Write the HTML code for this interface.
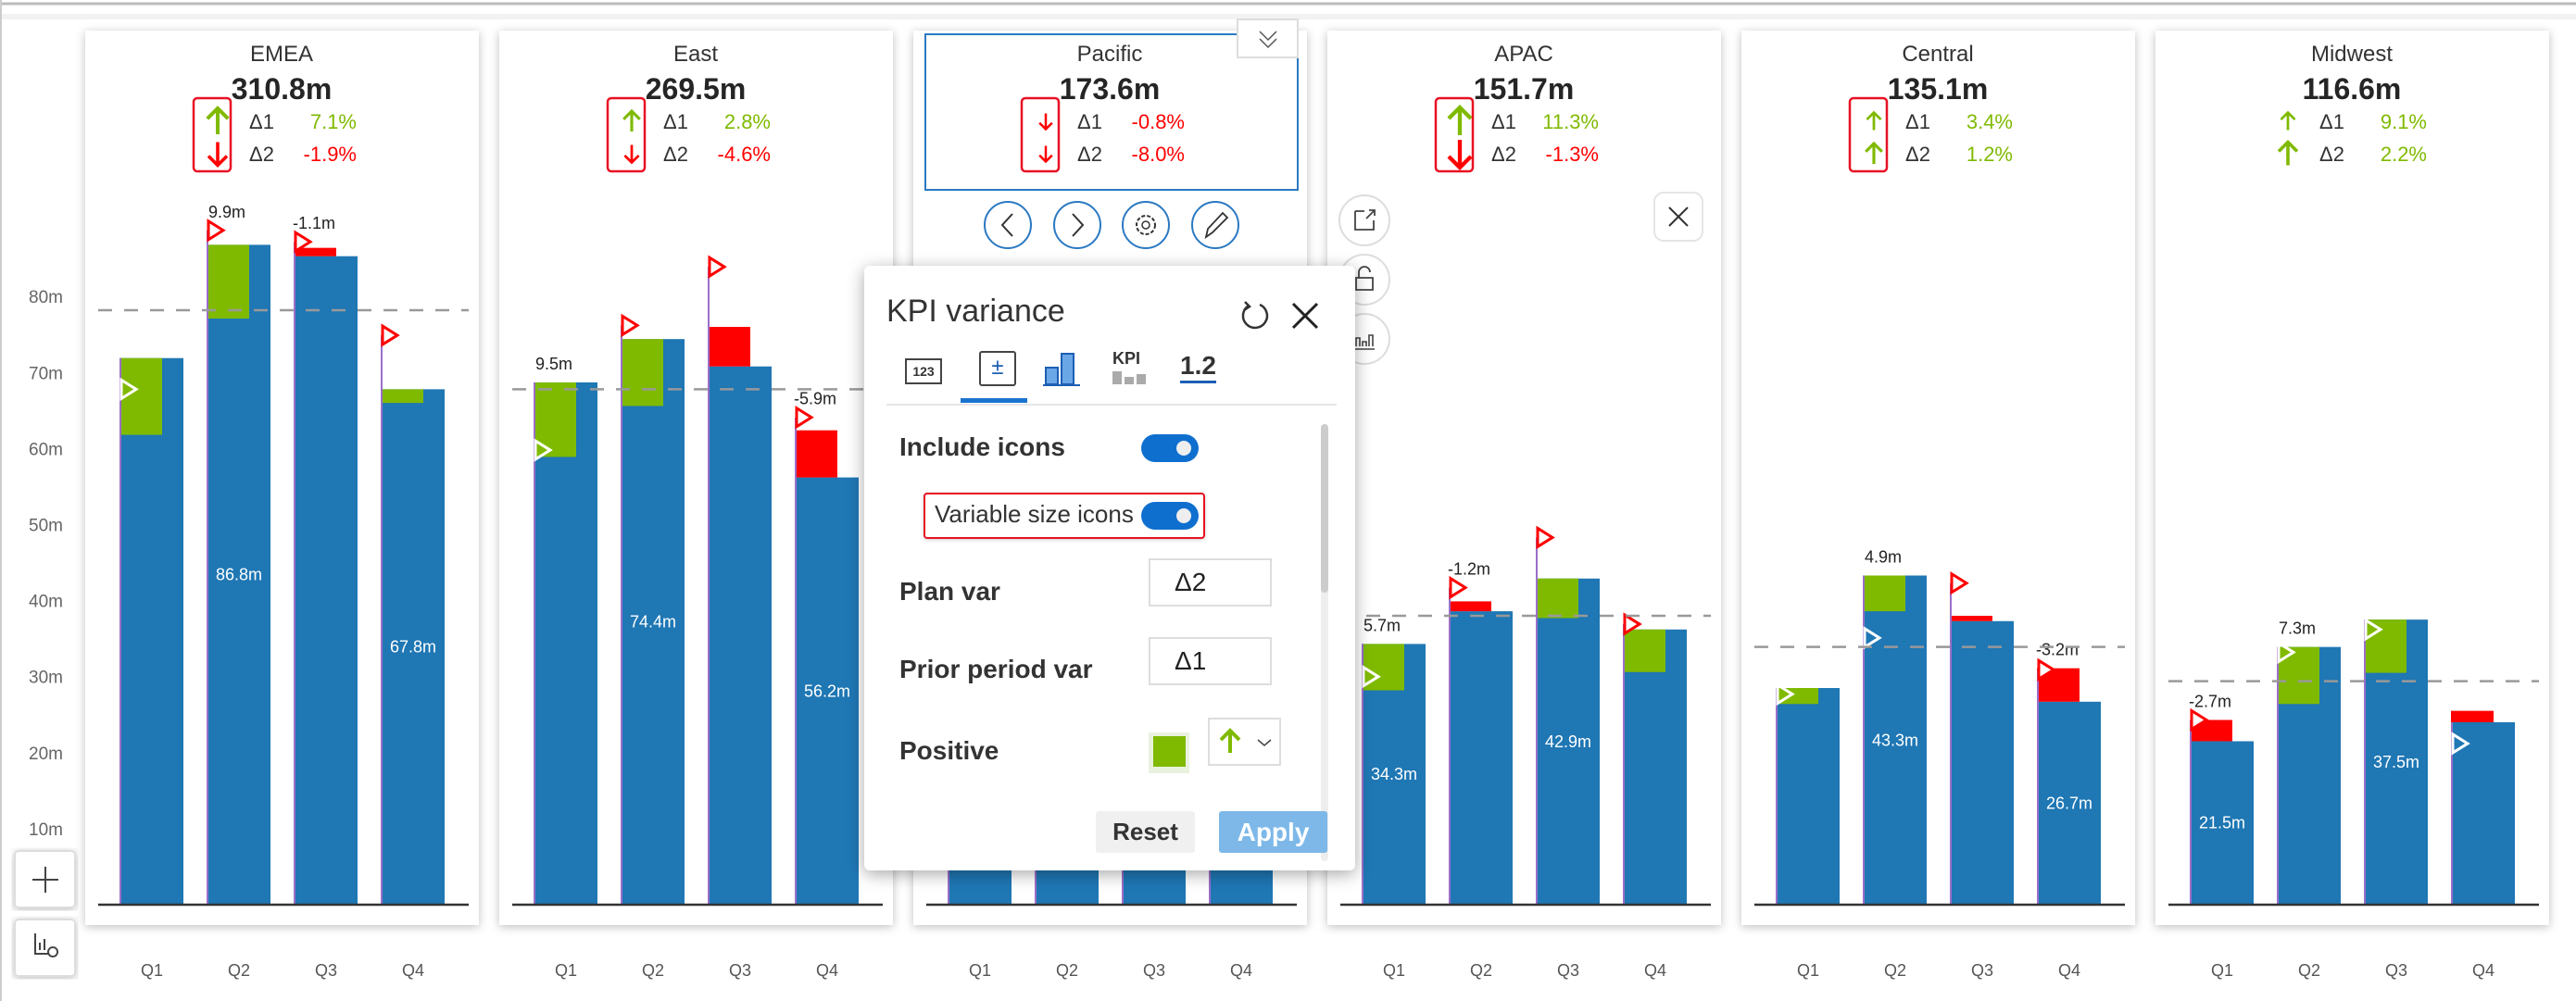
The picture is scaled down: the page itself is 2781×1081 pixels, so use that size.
<!DOCTYPE html>
<html><head><meta charset="utf-8"><style>
html,body{margin:0;padding:0;background:#fff;width:2781px;height:1081px;overflow:hidden;font-family:"Liberation Sans",sans-serif}
#chart{position:absolute;left:0;top:0}
#popup{position:absolute;left:933px;top:287px;width:530px;height:653px;background:#fff;border-radius:6px;box-shadow:0 4px 18px rgba(0,0,0,.35);color:#333}
#popup .lbl{position:absolute;left:38px;font-size:28px;font-weight:bold;color:#333}
.tog{position:absolute;width:62px;height:30px;border-radius:15px;background:#0f6fcf}
.tog::after{content:"";position:absolute;right:8px;top:7px;width:16px;height:16px;border-radius:50%;background:#eee}
.inp{position:absolute;border:2px solid #ddd;background:#fff;font-size:28px;color:#222;box-sizing:border-box;padding:18px 0 0 26px}
</style></head><body>
<svg id="chart" width="2781" height="1081" xmlns="http://www.w3.org/2000/svg">
<defs><filter id="sh" x="-5%" y="-5%" width="110%" height="110%"><feDropShadow dx="0" dy="2" stdDeviation="5" flood-color="#000" flood-opacity="0.25"/></filter></defs>
<line x1="0" y1="4" x2="2781" y2="4" stroke="#bbb" stroke-width="3"/>
<rect x="0" y="15" width="2781" height="6" fill="#f2f2f2"/>
<line x1="1" y1="0" x2="1" y2="1081" stroke="#ccc" stroke-width="2"/>
<g id="yaxis"></g>
<g id="panels"></g>
</svg>

<div id="popup">
 <div style="position:absolute;left:24px;top:30px;font-size:34px;color:#333">KPI variance</div>
 <svg style="position:absolute;left:405px;top:37px" width="34" height="34"><path d="M10 6 A13 13 0 1 0 22 5" fill="none" stroke="#333" stroke-width="2.5"/><path d="M6 2 L11 7 L5 11" fill="none" stroke="#333" stroke-width="2.5"/></svg>
 <svg style="position:absolute;left:460px;top:38px" width="32" height="32"><path d="M3 3L29 29M29 3L3 29" stroke="#222" stroke-width="3"/></svg>
 <div style="position:absolute;left:44px;top:100px;width:36px;height:24px;border:2px solid #444;font-size:14px;font-weight:bold;text-align:center;line-height:24px">123</div>
 <div style="position:absolute;left:124px;top:92px;width:36px;height:34px;border:2px solid #444;border-radius:3px;font-size:24px;text-align:center;color:#1c5fb4;line-height:32px">±</div>
 <div style="position:absolute;left:104px;top:143px;width:72px;height:5px;background:#1a73d0"></div>
 <svg style="position:absolute;left:193px;top:92px" width="40" height="38"><rect x="3" y="18" width="13" height="18" fill="#6aa7e6" stroke="#1c5fb4" stroke-width="2"/><rect x="20" y="3" width="13" height="33" fill="#6aa7e6" stroke="#1c5fb4" stroke-width="2"/><line x1="0" y1="37" x2="40" y2="37" stroke="#1c5fb4" stroke-width="2"/></svg>
 <div style="position:absolute;left:268px;top:90px;font-size:18px;font-weight:bold;color:#333">KPI<div style="display:flex;gap:3px;align-items:flex-end;margin-top:3px"><span style="width:10px;height:14px;background:#aaa"></span><span style="width:10px;height:8px;background:#aaa"></span><span style="width:10px;height:11px;background:#aaa"></span></div></div>
 <div style="position:absolute;left:341px;top:92px;font-size:28px;font-weight:bold;color:#333;border-bottom:3px solid #1c5fb4;line-height:32px">1.2</div>
 <div style="position:absolute;left:24px;top:149px;width:486px;height:2px;background:#e6e6e6"></div>
 <div class="lbl" style="top:180px">Include icons</div>
 <div class="tog" style="left:299px;top:182px"></div>
 <div style="position:absolute;left:64px;top:245px;width:304px;height:50px;border:2px solid #e81123;border-radius:4px;box-sizing:border-box;box-shadow:0 1px 4px rgba(0,0,0,.2)"></div>
 <div style="position:absolute;left:76px;top:253px;font-size:26px;color:#333">Variable size icons</div>
 <div class="tog" style="left:299px;top:255px"></div>
 <div class="lbl" style="top:336px">Plan var</div>
 <div class="inp" style="left:307px;top:316px;width:133px;height:52px;padding-top:8px">Δ2</div>
 <div class="lbl" style="top:420px">Prior period var</div>
 <div class="inp" style="left:307px;top:401px;width:133px;height:52px;padding-top:8px">Δ1</div>
 <div class="lbl" style="top:508px">Positive</div>
 <div style="position:absolute;left:307px;top:504px;width:44px;height:44px;background:#e9f2de"><div style="position:absolute;left:5px;top:4px;width:35px;height:33px;background:#7fba00"></div></div>
 <div style="position:absolute;left:371px;top:488px;width:79px;height:52px;border:2px solid #ddd;box-sizing:border-box">
  <svg width="75" height="48"><path d="M22 36V12M12 22L22 12L32 22" stroke="#7fba00" stroke-width="4" fill="none"/><path d="M52 22L59 28L66 22" stroke="#444" stroke-width="1.5" fill="none"/></svg></div>
 <div style="position:absolute;left:493px;top:171px;width:8px;height:472px;background:#eee;border-radius:4px"><div style="width:8px;height:182px;background:#ccc;border-radius:4px"></div></div>
 <div style="position:absolute;left:250px;top:589px;width:107px;height:45px;background:#f0f0f0;border-radius:3px;font-size:26px;font-weight:bold;text-align:center;line-height:45px;color:#333">Reset</div>
 <div style="position:absolute;left:383px;top:589px;width:117px;height:45px;background:#7db8e8;border-radius:3px;font-size:28px;font-weight:bold;text-align:center;line-height:45px;color:#fff">Apply</div>
</div>

<script>
// ----- data -----
const regions = ["EMEA","East","Pacific","APAC","Central","Midwest"];
const quarters = ["Q1","Q2","Q3","Q4"];
const totals = ["310.8m","269.5m","173.6m","151.7m","135.1m","116.6m"];
const delta1 = [7.1, 2.8, -0.8, 11.3, 3.4, 9.1];
const delta2 = [-1.9, -4.6, -8.0, -1.3, 1.2, 2.2];
const icon1Size = [28, 22, 17, 30, 19, 19];
const icon2Size = [25, 19, 17, 30, 22, 25];
const yTicks = [10,20,30,40,50,60,70,80];
const emeaActual = [71.9, 86.8, 85.3, 67.8];
const emeaCompare = [61.8, 77.1, 86.4, 66.0];
const emeaPlan = [67.8, 88.7, 87.2, 74.9];
const eastActual = [68.7, 74.4, 70.8, 56.2];
const eastCompare = [58.9, 65.6, 76.0, 62.4];
const eastPlan = [59.8, 76.2, 83.9, 64.1];
const pacificActual = [30.0, 28.0, 31.0, 29.0];
const pacificCompare = [27.0, 30.0, 28.0, 31.0];
const pacificPlan = [32.0, 31.0, 33.0, 30.0];
const apacActual = [34.3, 38.6, 42.9, 36.2];
const apacCompare = [28.2, 39.9, 37.7, 30.6];
const apacPlan = [30.0, 41.7, 48.3, 36.9];
const centralActual = [28.5, 43.3, 37.3, 26.7];
const centralCompare = [26.4, 38.6, 38.0, 31.1];
const centralPlan = [27.7, 35.1, 42.3, 30.9];
const midwestActual = [21.5, 33.9, 37.5, 24.0];
const midwestCompare = [24.3, 26.4, 30.5, 25.5];
const midwestPlan = [24.3, 33.2, 36.2, 21.2];
const refLines = [78.2, 67.8, 35.0, 38.0, 33.9, 29.4];
const varLabels = [["","9.9m","-1.1m",""],["9.5m","","","-5.9m"],["","","",""],["5.7m","-1.2m","",""],["","4.9m","","-3.2m"],["-2.7m","7.3m","",""]];
const valueLabelShown = [[0,1,0,1],[0,1,0,1],[0,0,0,0],[1,0,1,0],[0,1,0,1],[1,0,1,0]];
const highlighted = [1,1,1,1,1,0];
// ----- axis -----
const actuals=[emeaActual,eastActual,pacificActual,apacActual,centralActual,midwestActual];
const compares=[emeaCompare,eastCompare,pacificCompare,apacCompare,centralCompare,midwestCompare];
const plans=[emeaPlan,eastPlan,pacificPlan,apacPlan,centralPlan,midwestPlan];
const Y0=977, K=8.21;
function y(v){return Y0 - v*K;}
function px(i){return 92 + i*447;}
function bx(i,j){return px(i)+37+j*94;}
const NS="http://www.w3.org/2000/svg";
function mk(tag,attrs,parent,text){const e=document.createElementNS(NS,tag);for(const k in attrs)e.setAttribute(k,attrs[k]);if(text!==undefined)e.textContent=text;parent.appendChild(e);return e;}
const GREEN="#7fba00", RED="#ff0000", BLUE="#1f77b4";
const yax=document.getElementById('yaxis');
yTicks.forEach(t=>{const e=mk('text',{x:68,y:y(t)+7,'text-anchor':'end','font-size':19,fill:'#666'},yax,t+'m');

});
const root=document.getElementById('panels');
function arrow(g,cx,cy,size,up,color){
  const h=size, w=size*0.4;
  const d = up ? `M${cx} ${cy+h/2}V${cy-h/2}M${cx-w} ${cy-h/2+w}L${cx} ${cy-h/2}L${cx+w} ${cy-h/2+w}`
               : `M${cx} ${cy-h/2}V${cy+h/2}M${cx-w} ${cy+h/2-w}L${cx} ${cy+h/2}L${cx+w} ${cy+h/2-w}`;
  const p=mk('path',{d:d,stroke:color,'stroke-width':Math.max(2.5,size/7),fill:'none'},g);
  
  
}
regions.forEach((r,i)=>{
  const L=px(i);
  const g=mk('g',{},root);
  
  
  mk('rect',{x:L,y:33,width:425,height:966,fill:'#fff',filter:'url(#sh)'},g);
  const cx=L+212;
  const t=mk('text',{x:cx,y:66,'text-anchor':'middle','font-size':24,fill:'#333'},g,r);
  
  
  const tv=mk('text',{x:cx,y:107,'text-anchor':'middle','font-size':32,'font-weight':'bold',fill:'#252525'},g,totals[i]);
  
  
  [delta1[i],delta2[i]].forEach((d,k)=>{
    const yy=131+k*35, col=d>=0?GREEN:RED;
    arrow(g,L+143,yy,k===0?icon1Size[i]:icon2Size[i],d>=0,col);
    const dl=mk('text',{x:L+177,y:yy+8,'font-size':22,fill:'#333'},g,'Δ'+(k+1));
    
    
    const dv=mk('text',{x:L+293,y:yy+8,'text-anchor':'end','font-size':22,fill:col},g,d.toFixed(1)+'%');
    
    
  });
  if(highlighted[i]){const hb=mk('rect',{x:L+117,y:106,width:40,height:79,rx:4,fill:'none',stroke:'#e81123','stroke-width':2.5},g);
    
    }
  quarters.forEach((q,j)=>{
    const a=actuals[i][j], c=compares[i][j], p=plans[i][j], x=bx(i,j);
    const b=mk('rect',{x:x,y:y(a),width:69,height:Y0-y(a),fill:BLUE},g);
    
    
    const hi=Math.max(a,c), lo=Math.min(a,c);
    const vb=mk('rect',{x:x,y:y(hi),width:46,height:y(lo)-y(hi),fill:a>=c?GREEN:RED},g);
    
    
    mk('line',{x1:x+1,y1:Y0,x2:x+1,y2:y(Math.max(a,p)),stroke:'#9b6fc9','stroke-width':2},g);
    const tp=y(p), below=a<p;
    const tri=mk('path',{d:`M${x+2} ${tp-10}L${x+18} ${tp}L${x+2} ${tp+10}Z`,fill:below?'#fff':'none',stroke:below?RED:'#fff','stroke-width':3},g);
    
    
    if(varLabels[i][j]){const vl=mk('text',{x:x+22,y:Math.min(y(hi),tp)-14,'text-anchor':'middle','font-size':18,fill:'#222'},g,varLabels[i][j]);
      
      }
    if(valueLabelShown[i][j]){const tl=mk('text',{x:x+35,y:(y(a)+Y0)/2+6,'text-anchor':'middle','font-size':18,fill:'#fff'},g,a.toFixed(1)+'m');
      
      }
    const ql=mk('text',{x:x+35,y:1054,'text-anchor':'middle','font-size':18,fill:'#555'},g,q);
    
    
  });
  const ref=mk('line',{x1:L+14,y1:y(refLines[i]),x2:L+414,y2:y(refLines[i]),stroke:'#999','stroke-width':2.5,'stroke-dasharray':'15 13'},g);
  
  
  mk('line',{x1:L+14,y1:Y0,x2:L+414,y2:Y0,stroke:'#333','stroke-width':2.5},g);
});
const ov=mk('g',{},root);


mk('rect',{x:999,y:37,width:402,height:168,fill:'none',stroke:'#2b79c2','stroke-width':2},ov);
const chev=mk('g',{},ov);


mk('rect',{x:1336,y:21,width:65,height:41,fill:'#fff',stroke:'#ddd','stroke-width':2},chev);
mk('path',{d:'M1360 34L1369 43L1378 34M1360 42L1369 51L1378 42',stroke:'#555','stroke-width':1.5,fill:'none'},chev);
const navNames=['previous-button','next-button','settings-button','edit-button'];
[1088,1163,1237,1312].forEach((x,k)=>{
  const c=mk('circle',{cx:x,cy:243,r:25,fill:'#fff',stroke:'#2b79c2','stroke-width':2},ov);
  
  
});
mk('path',{d:'M1093 231L1082 243L1093 255',stroke:'#333','stroke-width':2,fill:'none'},ov);
mk('path',{d:'M1158 231L1169 243L1158 255',stroke:'#333','stroke-width':2,fill:'none'},ov);
mk('circle',{cx:1237,cy:243,r:10,fill:'none',stroke:'#333','stroke-width':2,'stroke-dasharray':'4 2'},ov);
mk('circle',{cx:1237,cy:243,r:4,fill:'none',stroke:'#333','stroke-width':1.5},ov);
mk('path',{d:'M1302 256L1304 247L1320 230L1325 235L1309 251Z',stroke:'#333','stroke-width':1.8,fill:'none'},ov);
const sideNames=['focus-mode-button','lock-button','chart-type-button'];
[238,302,366].forEach((yy,k)=>{
  const c=mk('circle',{cx:1473,cy:yy,r:27,fill:'#fff',stroke:'#ddd','stroke-width':2},ov);
  
  
});
mk('path',{d:'M1463 228h10M1463 228v20h20v-10M1475 236l9-9M1478 227h6v6',stroke:'#444','stroke-width':1.8,fill:'none'},ov);
mk('path',{d:'M1464 300h18v13h-18zM1467 300v-6a6 6 0 0 1 12 0',stroke:'#444','stroke-width':1.8,fill:'none'},ov);
mk('path',{d:'M1462 377h22M1464 374v-9h4v9M1471 374v-5h4v5M1478 374v-12h4v12',stroke:'#444','stroke-width':1.6,fill:'none'},ov);
const cl=mk('g',{},ov);


mk('rect',{x:1786,y:208,width:52,height:52,rx:10,fill:'#fff',stroke:'#e5e5e5','stroke-width':2},cl);
mk('path',{d:'M1802 224L1822 244M1822 224L1802 244',stroke:'#333','stroke-width':2},cl);
[[919,'add-button'],[993,'tools-button']].forEach(([yy,n])=>{
  const bt=mk('rect',{x:16,y:yy,width:65,height:61,rx:4,fill:'#fff',stroke:'#ddd','stroke-width':2,filter:'url(#sh)'},ov);
  
  
});
mk('path',{d:'M49 936v28M35 950h28',stroke:'#444','stroke-width':2},ov);
mk('path',{d:'M38 1008v22h14M43 1026v-8M48 1026v-12M57 1023a5 5 0 1 0 0.1 0',stroke:'#444','stroke-width':2,fill:'none'},ov);
</script>
</body></html>
